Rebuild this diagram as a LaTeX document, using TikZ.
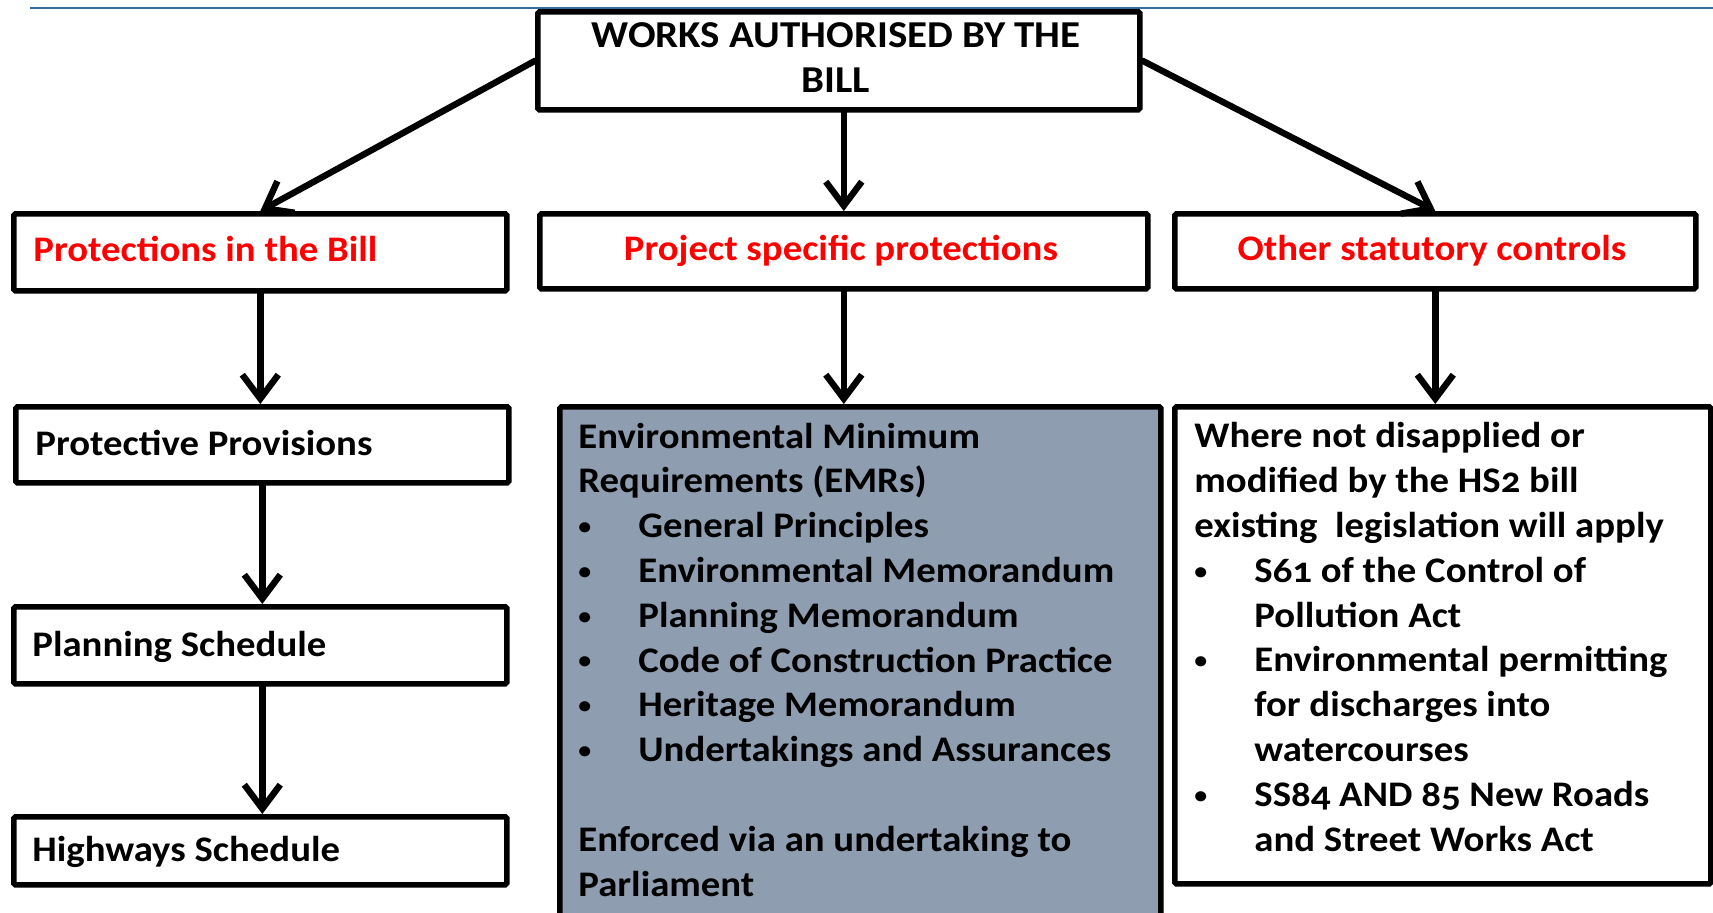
\documentclass[tikz,border=0pt]{standalone}
\usepackage{fontspec}
\setmainfont{Carlito}[FakeStretch=1.077,Numbers=OldStyle]
\usetikzlibrary{arrows.meta}
\definecolor{topline}{HTML}{3A6B9B}
\definecolor{greyfill}{HTML}{8E9DB0}
\definecolor{redtxt}{HTML}{FF0000}
\newcommand\bul[1]{\makebox[30pt][l]{\raisebox{1.6pt}{\fontsize{12pt}{12pt}\selectfont •}}#1}
\newcommand\cont[1]{\hspace*{30pt}#1}
\begin{document}
\begin{tikzpicture}[x=0.5pt,y=-0.5pt,
  box/.style={draw=black, fill=white, line width=2.8pt, rounded corners=0.8pt, inner sep=0pt, anchor=north west},
  lbl/.style={font=\bfseries\fontsize{18pt}{22.4pt}\selectfont, inner sep=0pt, align=left, anchor=base west},
  ctr/.style={lbl, align=center, anchor=base},
  conn/.style={line width=3.2pt, -{Straight Barb[length=12pt,width=18pt]}, line cap=round, line join=round}]
\clip (0,0) rectangle (1713,912);
\fill[white] (0,0) rectangle (1713,912);
\coordinate (tl1) at (30,8);
\coordinate (tl2) at (1713,8);
\draw[topline, line width=1pt] (tl1) -- (tl2);
% boxes
\node[box, minimum width=301pt, minimum height=49pt] (top) at (535,9) {};
\node[box, minimum width=246.5pt, minimum height=38.5pt] (pib) at (11,211) {};
\node[box, minimum width=304pt, minimum height=37.5pt] (psp) at (537,211) {};
\node[box, minimum width=260.5pt, minimum height=37.5pt] (osc) at (1172,211) {};
\node[box, minimum width=246.5pt, minimum height=38pt] (pp) at (13,404) {};
\node[box, minimum width=246.5pt, minimum height=38.5pt] (ps) at (11,604) {};
\node[box, minimum width=246.5pt, minimum height=34pt] (hs) at (11,814) {};
\node[box, fill=greyfill, minimum width=300.5pt, minimum height=265.5pt] (emr) at (557,404) {};
\node[box, minimum width=268pt, minimum height=238.5pt] (wnd) at (1172,404) {};
% texts (multi-line nodes: base anchor is the last line's baseline)
\node[ctr, font=\bfseries\fontsize{19pt}{22.4pt}\selectfont] (topt) at (836,92) {WORKS AUTHORISED BY THE\\BILL};
\node[lbl, text=redtxt] (pibt) at (33,261) {Protections in the Bill};
\node[ctr, text=redtxt] (pspt) at (841,260) {Project specific protections};
\node[ctr, text=redtxt] (osct) at (1432,260) {Other statutory controls};
\node[lbl] (ppt) at (35,455) {Protective Provisions};
\node[lbl] (pst) at (32,656) {Planning Schedule};
\node[lbl] (hst) at (32,861) {Highways Schedule};
\node[lbl] (emrt) at (578,896) {Environmental Minimum\\
Requirements (EMRs)\\
\bul{General Principles}\\
\bul{Environmental Memorandum}\\
\bul{Planning Memorandum}\\
\bul{Code of Construction Practice}\\
\bul{Heritage Memorandum}\\
\bul{Undertakings and Assurances}\\[22.4pt]
Enforced via an undertaking to\\
Parliament};
\node[lbl] (wndt) at (1194,851) {Where not disapplied or\\
modified by the HS2 bill\\
existing\ \ legislation will apply\\
\bul{S61 of the Control of}\\
\cont{Pollution Act}\\
\bul{Environmental permitting}\\
\cont{for discharges into}\\
\cont{watercourses}\\
\bul{SS84 AND 85 New Roads}\\
\cont{and Street Works Act}};
% connectors
\draw[conn] (top.west) -- (pib.north);
\draw[conn] (psp.north |- top.south) -- (psp.north);
\draw[conn] (top.east) -- (osc.north);
\draw[conn] (pib.south) -- (pib.south |- pp.north);
\draw[conn] (psp.south) -- (psp.south |- emr.north);
\draw[conn] (osc.south) -- (osc.south |- wnd.north);
\draw[conn] (pp.south) -- (pp.south |- ps.north);
\draw[conn] (pp.south |- ps.south) -- (pp.south |- hs.north);
\end{tikzpicture}
\end{document}
